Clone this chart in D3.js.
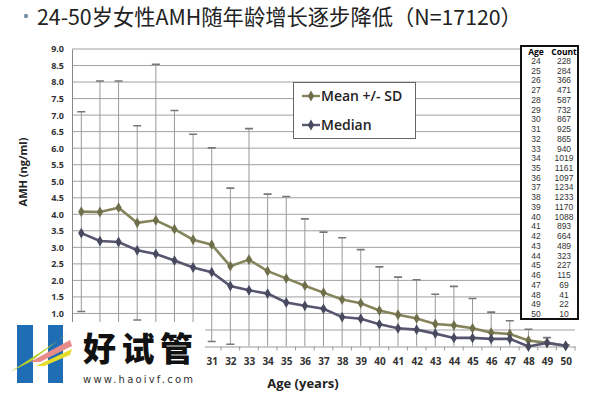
<!DOCTYPE html>
<html>
<head>
<meta charset="utf-8">
<script src="https://cdn.jsdelivr.net/npm/d3@7"></script>
<style>
  body { margin: 0; background: #fff; }
  svg text { font-family: "Open Sans", "Noto Sans", sans-serif; }
</style>
</head>
<body>
<script>
const width = 600
const height = 395

// data
const ages = [24,25,26,27,28,29,30,31,32,33,34,35,36,37,38,39,40,41,42,43,44,45,46,47,48,49,50]
const counts = [228,284,366,471,587,732,867,925,865,940,1019,1161,1097,1234,1233,1170,1088,893,664,489,323,227,115,69,41,22,10]
const meanVals = [4.08,4.07,4.20,3.74,3.82,3.55,3.23,3.08,2.43,2.63,2.28,2.06,1.84,1.63,1.42,1.31,1.09,0.96,0.85,0.68,0.64,0.55,0.42,0.38,0.18,0.11,0.02]
const sdVals = [3.02,3.96,3.83,2.94,4.72,3.59,3.19,2.93,2.36,3.96,2.33,2.48,2.02,1.83,1.87,1.62,1.32,1.14,1.17,0.90,1.18,0.90,0.62,0.40,0.34,0.16,0.03]
const medianVals = [3.43,3.19,3.16,2.91,2.80,2.60,2.39,2.25,1.83,1.70,1.60,1.33,1.23,1.14,0.89,0.84,0.67,0.55,0.51,0.39,0.26,0.26,0.23,0.23,0.00,0.11,0.02]
const yTicks = [0,0.5,1,1.5,2,2.5,3,3.5,4,4.5,5,5.5,6,6.5,7,7.5,8,8.5,9]
const legendNames = ["Mean +/- SD", "Median"]

const meanColor = "#85855c"
const meanMarker = "#6f6f4c"
const medColor = "#565670"
const medMarker = "#48485e"
const gridColor = "#a0a0a0"

const plotLeft = 72, plotRight = 575, plotTop = 49, plotBottom = 346.5
// the watermark in the lower-left corner hides the chart behind it
const logoRight = 205, logoTop = 322

let svg = d3.select("body")
    .append("svg")
    .attr("width", width)
    .attr("height", height)

let x = d3.scalePoint()
    .domain(ages)
    .range([plotLeft, plotRight])
    .padding(0.5)

let y = d3.scaleLinear()
    .domain([0, 9])
    .range([plotBottom, plotTop])

// title
svg.append("circle")
    .attr("cx", 26).attr("cy", 16).attr("r", 2.2)
    .attr("fill", "#7d93a8")
svg.append("text")
    .attr("x", 37).attr("y", 25)
    .style("font-family", "'Noto Sans CJK SC', 'Noto Sans', sans-serif")
    .style("font-size", "21.3px")
    .attr("fill", "#222")
    .text("24-50岁女性AMH随年龄增长逐步降低（N=17120）")

// grid + y axis
svg.append("g")
    .selectAll("line")
    .data(yTicks.filter(d => d > 0))
    .enter()
    .append("line")
    .attr("x1", plotLeft).attr("x2", plotRight)
    .attr("y1", d => y(d)).attr("y2", d => y(d))
    .attr("stroke", gridColor)
    .attr("stroke-width", 1)

let yAxis = svg.append("g")
    .attr("transform", `translate(${plotLeft},0)`)
    .call(d3.axisLeft(y).tickValues(yTicks.filter(d => y(d) < logoTop)).tickSize(0).tickPadding(8).tickFormat(d3.format(".1f")))
yAxis.select(".domain").attr("stroke", "#888")
yAxis.selectAll("text")
    .style("font-size", "9px")
    .style("font-weight", "bold")
    .attr("fill", "#333")

svg.append("text")
    .attr("transform", "translate(27,172) rotate(-90)")
    .attr("text-anchor", "middle")
    .style("font-size", "11px")
    .style("font-weight", "bold")
    .attr("fill", "#222")
    .text("AMH (ng/ml)")

// x axis
let xAxis = svg.append("g")
    .attr("transform", `translate(0,${plotBottom})`)
    .call(d3.axisBottom(x).tickSize(0).tickPadding(11))
xAxis.select(".domain").attr("stroke", "#999")
xAxis.selectAll(".tick")
    .filter(d => x(d) < logoRight)
    .remove()
xAxis.selectAll("text")
    .style("font-size", "10px")
    .style("font-weight", "bold")
    .attr("fill", "#333")

let step = x.step()
svg.append("g")
    .selectAll("line")
    .data(ages.concat([ages[ages.length - 1] + 1]))
    .enter()
    .append("line")
    .attr("x1", (d, i) => plotLeft + i * step)
    .attr("x2", (d, i) => plotLeft + i * step)
    .attr("y1", plotBottom).attr("y2", plotBottom + 4)
    .attr("stroke", "#999")

svg.append("text")
    .attr("x", 303).attr("y", 388)
    .attr("text-anchor", "middle")
    .style("font-size", "13px")
    .style("font-weight", "bold")
    .attr("fill", "#222")
    .text("Age (years)")

// error bars
svg.append("clipPath").attr("id", "plotClip")
    .append("rect")
    .attr("x", plotLeft).attr("y", plotTop - 6)
    .attr("width", plotRight - plotLeft).attr("height", plotBottom - plotTop + 6)

let bars = svg.append("g")
    .attr("clip-path", "url(#plotClip)")
    .selectAll("g")
    .data(ages)
    .enter()
    .append("g")

bars.append("line")
    .attr("x1", d => x(d)).attr("x2", d => x(d))
    .attr("y1", (d, i) => y(meanVals[i] + sdVals[i]))
    .attr("y2", (d, i) => y(Math.max(0, meanVals[i] - sdVals[i])))
    .attr("stroke", "#9a9a9a")
    .attr("stroke-width", 1)

bars.append("line")
    .attr("x1", d => x(d) - 4).attr("x2", d => x(d) + 4)
    .attr("y1", (d, i) => y(meanVals[i] + sdVals[i]))
    .attr("y2", (d, i) => y(meanVals[i] + sdVals[i]))
    .attr("stroke", "#777")
    .attr("stroke-width", 1.6)

bars.filter((d, i) => meanVals[i] - sdVals[i] > 0)
    .append("line")
    .attr("x1", d => x(d) - 4).attr("x2", d => x(d) + 4)
    .attr("y1", d => y(meanVals[ages.indexOf(d)] - sdVals[ages.indexOf(d)]))
    .attr("y2", d => y(meanVals[ages.indexOf(d)] - sdVals[ages.indexOf(d)]))
    .attr("stroke", "#777")
    .attr("stroke-width", 1.6)

// lines
let diamond = d3.symbol().type(d3.symbolDiamond).size(34)

function drawSeries(vals, color, marker){
    let line = d3.line()
        .x((d, i) => x(ages[i]))
        .y(d => y(d))
    svg.append("path")
        .datum(vals)
        .attr("d", line)
        .attr("fill", "none")
        .attr("stroke", color)
        .attr("stroke-width", 2.6)
    svg.append("g")
        .selectAll("path")
        .data(vals)
        .enter()
        .append("path")
        .attr("d", diamond)
        .attr("transform", (d, i) => `translate(${x(ages[i])},${y(d)})`)
        .attr("fill", marker)
}
drawSeries(meanVals, meanColor, meanMarker)
drawSeries(medianVals, medColor, medMarker)

// legend
let legend = svg.append("g")
legend.append("rect")
    .attr("x", 293.5).attr("y", 82.5)
    .attr("width", 122).attr("height", 56)
    .attr("fill", "#fff")
    .attr("stroke", "#666")
legendNames.forEach(function(name, i){
    let ly = 96 + i * 29
    let c = i == 0 ? meanColor : medColor
    let m = i == 0 ? meanMarker : medMarker
    legend.append("line")
        .attr("x1", 302).attr("x2", 320)
        .attr("y1", ly).attr("y2", ly)
        .attr("stroke", c).attr("stroke-width", 2.4)
    legend.append("path")
        .attr("d", diamond)
        .attr("transform", `translate(311,${ly})`)
        .attr("fill", m)
    legend.append("text")
        .attr("x", 321).attr("y", ly + 5)
        .style("font-size", "14px")
        .style("font-weight", "600")
        .attr("fill", "#222")
        .text(name)
})

// count table
let table = svg.append("g")
table.append("rect")
    .attr("x", 521).attr("y", 46)
    .attr("width", 57).attr("height", 273)
    .attr("fill", "#fff")
    .attr("stroke", "#111")
    .attr("stroke-width", 2)
table.append("text")
    .attr("x", 536).attr("y", 55)
    .attr("text-anchor", "middle")
    .style("font-size", "8.5px").style("font-weight", "bold")
    .text("Age")
table.append("text")
    .attr("x", 564).attr("y", 55)
    .attr("text-anchor", "middle")
    .style("font-size", "8.5px").style("font-weight", "bold")
    .text("Count")
let rows = table.selectAll(".row")
    .data(ages)
    .enter()
    .append("g")
rows.append("text")
    .attr("x", 536)
    .attr("y", (d, i) => 64 + i * 9.73)
    .attr("text-anchor", "middle")
    .style("font-family", "'Liberation Sans', Arial, sans-serif")
    .style("font-size", "8.5px")
    .attr("fill", "#333")
    .text(d => d)
rows.append("text")
    .attr("x", 564)
    .attr("y", (d, i) => 64 + i * 9.73)
    .attr("text-anchor", "middle")
    .style("font-family", "'Liberation Sans', Arial, sans-serif")
    .style("font-size", "8.5px")
    .attr("fill", "#333")
    .text((d, i) => counts[i])

// watermark logo
let logo = svg.append("g")
logo.append("rect")
    .attr("x", 0).attr("y", logoTop)
    .attr("width", logoRight).attr("height", height - logoTop)
    .attr("fill", "#fff")
logo.append("rect").attr("x", 17).attr("y", 325).attr("width", 16).attr("height", 58).attr("fill", "#1f6db5")
logo.append("rect").attr("x", 48).attr("y", 325).attr("width", 15).attr("height", 58).attr("fill", "#1f6db5")
logo.append("polygon").attr("points", "10,372 62,338 68,333 30,362").attr("fill", "#b5cf2a")
logo.append("polygon").attr("points", "30,362 70,340 72,346 40,362").attr("fill", "#e88a8a")
logo.append("polygon").attr("points", "36,366 72,349 70,355 44,366").attr("fill", "#e6dc2a")
logo.append("text")
    .attr("x", 83).attr("y", 361)
    .attr("textLength", 110)
    .style("font-family", "'Noto Sans CJK SC', sans-serif")
    .style("font-size", "33px")
    .style("font-weight", "900")
    .attr("fill", "#111")
    .text("好试管")
logo.append("text")
    .attr("x", 83).attr("y", 383)
    .attr("textLength", 110)
    .style("font-family", "'DejaVu Sans', sans-serif")
    .style("font-size", "10px")
    .attr("fill", "#333")
    .text("www.haoivf.com")
</script>
</body>
</html>
